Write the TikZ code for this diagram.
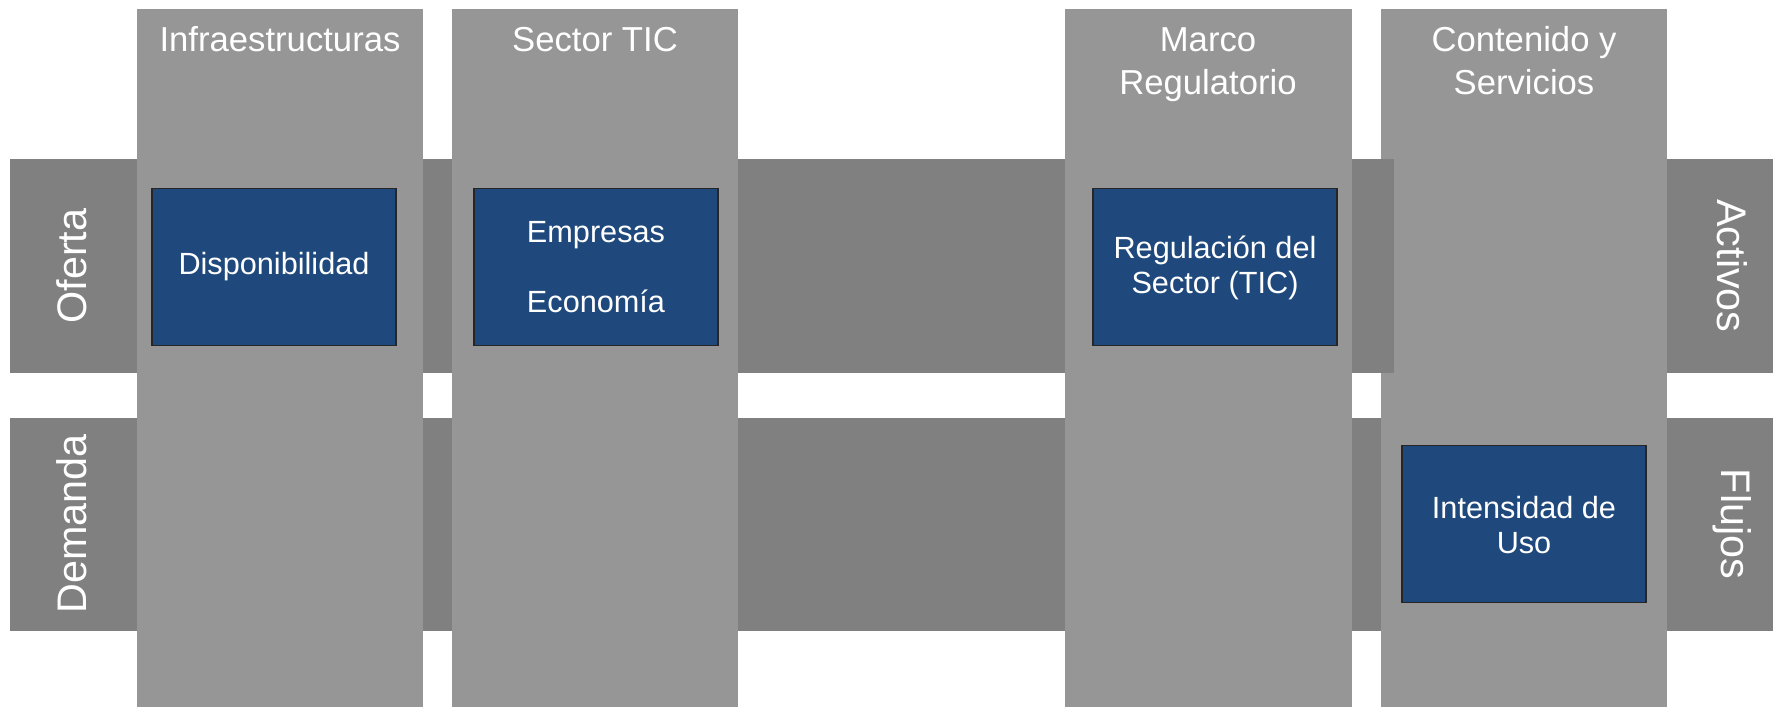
\documentclass[tikz,border=0pt]{standalone}
\usepackage{fontspec}
\setmainfont{Liberation Sans}
\usetikzlibrary{positioning}
\definecolor{colgray}{RGB}{150,150,150}
\definecolor{bandgray}{RGB}{128,128,128}
\definecolor{boxblue}{RGB}{31,73,125}

\begin{document}
\begin{tikzpicture}[x=0.75pt,y=-0.75pt,
	  every node/.style={align=center,text=white,draw=none,inner sep=0pt,outer sep=0pt},
	  band/.style={fill=bandgray},
	  column/.style={fill=colgray},
	  infobox/.style={draw=black!85,line width=0.9pt,fill=boxblue,minimum width=183pt,minimum height=118pt,font=\fontsize{23}{26}\selectfont},
	  coltitle/.style={anchor=base,font=\fontsize{26}{32}\selectfont},
	  rowlabel/.style={font=\fontsize{31}{36}\selectfont}]

	  \useasboundingbox (0,0) rectangle (1773,707);

	  % Rows (Oferta / Demanda)
	  \fill[band] (10,159) rectangle (1773,373);
	  \fill[band] (10,418) rectangle (1773,631);

	  % Columns
	  \fill[column] (137,9) rectangle (423,707);
	  \fill[column] (452,9) rectangle (738,707);
	  \fill[column] (1065,9) rectangle (1352,707);
	  \fill[column] (1381,9) rectangle (1667,707);
	  \fill[band] (1381,159) rectangle (1394,373);

	  % Column titles (base = last line)
	  \node[coltitle] (infra) at (280,51) {Infraestructuras};
	  \node[coltitle] (sector) at (595,51) {Sector TIC};
	  \node[coltitle] (marco) at (1208,94) {Marco\\Regulatorio};
	  \node[coltitle] (contenido) at (1524,94) {Contenido y\\Servicios};

	  % Row labels
	  \node[rowlabel,rotate=90] (oferta) at (72,266) {Oferta};
	  \node[rowlabel,rotate=90] (demanda) at (72,524) {Demanda};
	  \node[rowlabel,rotate=-90] (activos) at (1732,266) {Activos};
	  \node[rowlabel,rotate=-90] (flujos) at (1732,524) {Flujos};

	  % Indicator boxes
	  \node[infobox] (disponibilidad) at (274,267) {Disponibilidad};
	  \node[infobox] (empresas) at (596,267) {Empresas\\[27pt]Economía};
	  \node[infobox] (regulacion) at (1215,267) {\strut Regulación del\\Sector (TIC)};
	  \node[infobox] (intensidad) at (1524,524) {\strut Intensidad de\\Uso};
\end{tikzpicture}
\end{document}
